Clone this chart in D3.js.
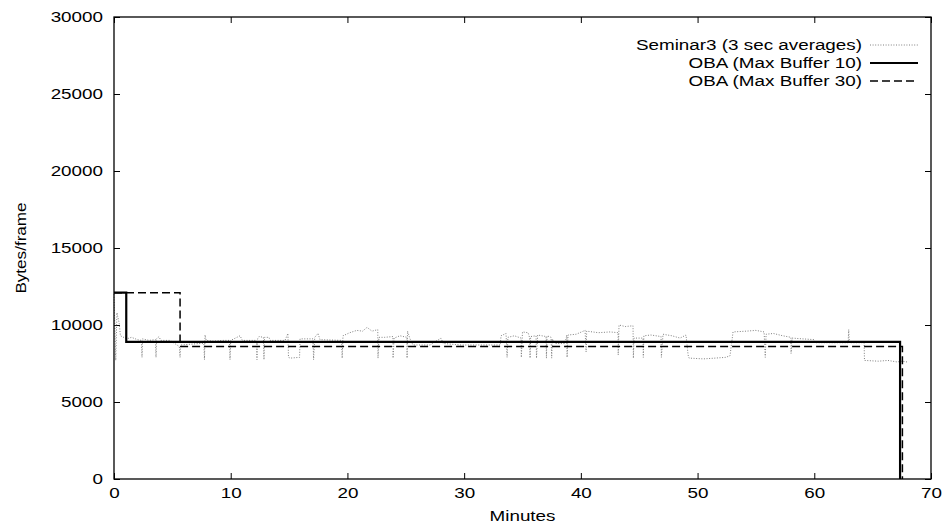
<!DOCTYPE html>
<html><head><meta charset="utf-8">
<script src="https://cdn.jsdelivr.net/npm/d3@7"></script>
<style>body{margin:0;background:#fff;} text{font-family:"Liberation Sans",Arial,Helvetica,sans-serif;}</style>
</head><body>
<svg id="c" width="946" height="527"></svg>
<script>
// ---- data ----
const xTicks = [0,10,20,30,40,50,60,70];
const yTicks = [0,5000,10000,15000,20000,25000,30000];
const seriesNames = ["Seminar3 (3 sec averages)","OBA (Max Buffer 10)","OBA (Max Buffer 30)"];
// OBA step series (value holds from this minute onwards)
const oba10Min = [0, 1.05, 67.35];
const oba10Val = [12100, 8900, 0];
const oba30Min = [0, 5.66, 67.55];
const oba30Val = [12100, 8600, 0];
// Seminar3 3-sec averages (minutes, bytes/frame)
const semMin = [0,0.15,0.25,0.45,0.55,1.1,1.5,2.0,2.35,2.4,2.45,3.0,3.55,3.6,3.65,3.86,4.0,4.8,5.2,5.6,5.66,5.7,6.5,7.37,7.7,7.75,7.8,7.9,8.5,9.3,9.9,9.94,10.0,10.8,11.0,12.2,12.25,12.3,12.43,12.8,12.85,12.9,13.28,13.37,14.65,14.9,14.95,15.1,15.9,15.94,16.5,17.05,17.1,17.2,17.48,17.65,19.5,19.55,19.62,20.2,20.8,21.3,21.68,22.1,22.6,22.62,22.7,23.2,23.9,23.91,24.0,24.5,25.1,25.11,25.15,25.36,25.62,27.08,28.02,28.2,29.73,33.1,33.16,33.59,33.68,33.75,34.3,34.88,34.9,35.0,35.48,35.6,35.65,35.7,36.16,36.2,36.3,37.02,37.05,37.1,37.45,37.5,37.55,37.79,38.65,38.8,38.82,38.9,39.6,40.36,40.45,40.5,41.5,42.5,43.19,43.2,43.27,43.8,44.47,44.5,44.55,45.33,45.35,45.4,46.0,46.87,46.9,47.04,47.8,48.5,49.01,49.19,49.27,50.5,51.5,52.4,52.78,53.04,54.16,55.0,55.7,55.8,55.87,56.5,57.3,58.0,58.01,58.1,59.0,59.98,60.1,62.9,62.95,63.0,64.27,64.3,65.5,66.3,67.1,67.5,67.95];
const semVal = [12000,7700,10800,10100,9300,9100,9200,9050,9000,7900,9100,9000,9050,7900,9100,9250,9000,9000,8800,8600,7900,8700,8750,8800,8800,7750,9350,9000,8950,9000,9000,7750,9000,9300,9000,9000,7750,9100,9250,9200,7750,9200,9200,9000,9000,9450,7900,7850,7900,9100,9100,9100,7750,9200,9450,9050,9000,7850,9300,9500,9650,9600,9850,9600,9700,7850,9200,9200,9250,7850,9150,9300,9200,7850,9600,9100,8700,8700,9150,8800,8700,8700,9300,9450,7900,9200,9300,9150,7900,9550,9500,9200,7850,9250,9300,7850,9350,9250,7850,9300,9200,7850,9100,8800,8800,9350,7900,9350,9400,9650,8250,9600,9500,9550,9500,8050,10000,9900,9950,7850,9150,9150,7900,9300,9350,9250,7900,9400,9300,9150,9350,8050,7850,7800,7850,7900,8000,9550,9600,9650,9550,7900,9400,9450,9300,9200,8150,9150,9100,9050,8850,8850,9700,8850,8850,7700,7650,7700,7600,7650,7600];

// ---- layout ----
const svg = d3.select("#c");
const L=114, R=931, T=17, B=479;
const x = d3.scaleLinear().domain([0,70]).range([L,R]);
const y = d3.scaleLinear().domain([0,30000]).range([B,T]);
const tl = 6, FS = 14.5, SX = 1.3;

svg.append("rect").attr("width",946).attr("height",527).attr("fill","#fff");

// horizontally-stretched text helper (the reference font is wide)
function stretch(sel){
  sel.each(function(){
    const t=d3.select(this);
    const tx=+t.attr("x")||0, ty=+t.attr("y")||0;
    t.attr("x",null).attr("y",null).attr("transform",`translate(${tx},${ty}) scale(${SX},1)`);
  });
}

// axes with inward ticks, mirrored
const axB = d3.axisBottom(x).tickValues(xTicks).tickFormat(d3.format("d")).tickSizeInner(-tl).tickSizeOuter(0).tickPadding(9);
const axT = d3.axisTop(x).tickValues(xTicks).tickSizeInner(-tl).tickSizeOuter(0).tickFormat("");
const axL = d3.axisLeft(y).tickValues(yTicks).tickFormat(d3.format("d")).tickSizeInner(-tl).tickSizeOuter(0).tickPadding(11);
const axR = d3.axisRight(y).tickValues(yTicks).tickSizeInner(-tl).tickSizeOuter(0).tickFormat("");
function style(g){
  g.select(".domain").remove();
  g.selectAll("line").attr("stroke","#000");
  g.selectAll("text").attr("font-size",FS).attr("fill","#000").attr("font-family","Liberation Sans, Arial, sans-serif").call(stretch);
}
svg.append("g").attr("transform",`translate(0,${B})`).call(axB).call(style);
svg.append("g").attr("transform",`translate(0,${T})`).call(axT).call(style);
svg.append("g").attr("transform",`translate(${L},0)`).call(axL).call(style);
svg.append("g").attr("transform",`translate(${R},0)`).call(axR).call(style);

// data lines
const semData = semMin.map((m,i)=>[m,semVal[i]]);
const lineS = d3.line().x(d=>x(d[0])).y(d=>y(d[1]));
const lineStep = d3.line().x(d=>x(d[0])).y(d=>y(d[1])).curve(d3.curveStepAfter);
svg.append("path").attr("d",lineS(semData)).attr("fill","none").attr("stroke","#808080").attr("stroke-width",1).attr("stroke-dasharray","1,1.6");
svg.append("path").attr("d",lineStep(oba10Min.map((m,i)=>[m,oba10Val[i]]))).attr("fill","none").attr("stroke","#000").attr("stroke-width",2.2);
svg.append("path").attr("d",lineStep(oba30Min.map((m,i)=>[m,oba30Val[i]]))).attr("fill","none").attr("stroke","#000").attr("stroke-width",1.5).attr("stroke-dasharray","8,4");

// frame
svg.append("rect").attr("x",L).attr("y",T).attr("width",R-L).attr("height",B-T).attr("fill","none").attr("stroke","#000").attr("stroke-width",1.3);

// axis titles
svg.append("text").attr("transform",`translate(${(L+R)/2},521) scale(${SX},1)`).attr("text-anchor","middle").attr("font-size",FS).text("Minutes");
svg.append("text").attr("transform",`translate(26,${(T+B)/2}) rotate(-90) scale(1.18,1)`).attr("text-anchor","middle").attr("font-size",FS).text("Bytes/frame");

// legend
const legY = [45,63,81];
const legStyles = [
  {stroke:"#808080",w:1,dash:"1,1.6"},
  {stroke:"#000",w:2.2,dash:null},
  {stroke:"#000",w:1.5,dash:"8,4"}
];
seriesNames.forEach((n,i)=>{
  svg.append("text").attr("transform",`translate(862,${legY[i]+5}) scale(${SX},1)`).attr("text-anchor","end").attr("font-size",FS).text(n);
  const l = svg.append("line").attr("x1",870).attr("x2",918).attr("y1",legY[i]).attr("y2",legY[i]).attr("stroke",legStyles[i].stroke).attr("stroke-width",legStyles[i].w);
  if(legStyles[i].dash) l.attr("stroke-dasharray",legStyles[i].dash);
});
</script>
</body></html>
